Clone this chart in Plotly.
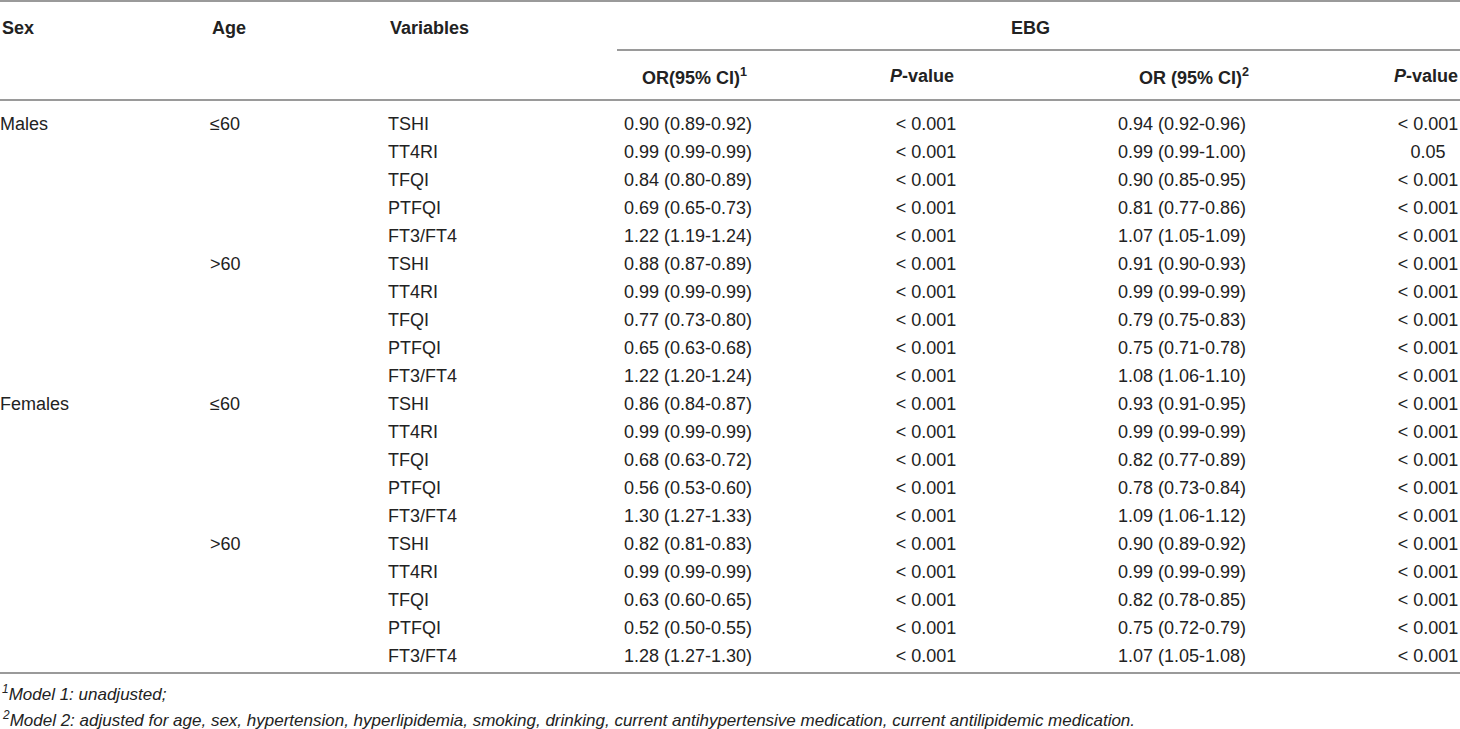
"""EBG odds ratios by sex and age group, drawn as a plain three-line table."""
import plotly.graph_objects as go

# ---- data ----------------------------------------------------------------
sexes = ["Males", "Females"]
age_groups = ["≤60", ">60"]
variables = ["TSHI", "TT4RI", "TFQI", "PTFQI", "FT3/FT4"]

or_model1 = [
    "0.90 (0.89-0.92)", "0.99 (0.99-0.99)", "0.84 (0.80-0.89)", "0.69 (0.65-0.73)", "1.22 (1.19-1.24)",
    "0.88 (0.87-0.89)", "0.99 (0.99-0.99)", "0.77 (0.73-0.80)", "0.65 (0.63-0.68)", "1.22 (1.20-1.24)",
    "0.86 (0.84-0.87)", "0.99 (0.99-0.99)", "0.68 (0.63-0.72)", "0.56 (0.53-0.60)", "1.30 (1.27-1.33)",
    "0.82 (0.81-0.83)", "0.99 (0.99-0.99)", "0.63 (0.60-0.65)", "0.52 (0.50-0.55)", "1.28 (1.27-1.30)",
]
p_model1 = ["< 0.001"] * 20
or_model2 = [
    "0.94 (0.92-0.96)", "0.99 (0.99-1.00)", "0.90 (0.85-0.95)", "0.81 (0.77-0.86)", "1.07 (1.05-1.09)",
    "0.91 (0.90-0.93)", "0.99 (0.99-0.99)", "0.79 (0.75-0.83)", "0.75 (0.71-0.78)", "1.08 (1.06-1.10)",
    "0.93 (0.91-0.95)", "0.99 (0.99-0.99)", "0.82 (0.77-0.89)", "0.78 (0.73-0.84)", "1.09 (1.06-1.12)",
    "0.90 (0.89-0.92)", "0.99 (0.99-0.99)", "0.82 (0.78-0.85)", "0.75 (0.72-0.79)", "1.07 (1.05-1.08)",
]
p_model2 = [
    "< 0.001", "0.05", "< 0.001", "< 0.001", "< 0.001",
    "< 0.001", "< 0.001", "< 0.001", "< 0.001", "< 0.001",
    "< 0.001", "< 0.001", "< 0.001", "< 0.001", "< 0.001",
    "< 0.001", "< 0.001", "< 0.001", "< 0.001", "< 0.001",
]

headers = ["Sex", "Age", "Variables"]
group_header = "EBG"
sub_headers = ["OR(95% CI)<sup>1</sup>", "<i>P</i>-value", "OR (95% CI)<sup>2</sup>", "<i>P</i>-value"]
footnotes = [
    "<sup>1</sup>Model 1: unadjusted;",
    "<sup>2</sup>Model 2: adjusted for age, sex, hypertension, hyperlipidemia, smoking, drinking, "
    "current antihypertensive medication, current antilipidemic medication.",
]

# ---- flatten into table rows ------------------------------------------------
var_col = []
sex_rows, sex_text, age_rows, age_text = [], [], [], []
for s in sexes:
    sex_rows.append(len(var_col))
    sex_text.append(s)
    for a in age_groups:
        age_rows.append(len(var_col))
        age_text.append(a)
        var_col.extend(variables)

W, H = 1460, 729
FONT = "Liberation Sans, Arial, sans-serif"
TXT = "#222222"
RULE = "#9a9a9a"
ROW0, ROW_H = 125, 28
row_y = [ROW0 + ROW_H * i for i in range(len(var_col))]

# column anchors: (texts, row indices, x, textposition)
all_rows = list(range(len(var_col)))
columns = [
    (sex_text, sex_rows, 0, "middle right"),
    (age_text, age_rows, 210, "middle right"),
    (var_col, all_rows, 388, "middle right"),
    (or_model1, all_rows, 688, "middle center"),
    (p_model1, all_rows, 926, "middle center"),
    (or_model2, all_rows, 1182, "middle center"),
    (p_model2, all_rows, 1428, "middle center"),
]

fig = go.Figure()
for texts, rows, x, pos in columns:
    fig.add_trace(go.Scatter(
        x=[x] * len(texts), y=[row_y[r] for r in rows], text=texts, mode="text",
        textposition=pos, textfont=dict(family=FONT, size=18, color=TXT),
        hoverinfo="skip", showlegend=False,
    ))

# header rows
hdr = dict(xref="x", yref="y", showarrow=False, yanchor="middle",
           font=dict(family=FONT, size=18, color=TXT))
for text, x in zip(headers, [0, 210, 388]):
    fig.add_annotation(x=x, y=28, text=f"<b>{text}</b>", xanchor="left", **hdr)
fig.add_annotation(x=1030, y=28, text=f"<b>{group_header}</b>", xanchor="center", **hdr)
for text, x in zip(sub_headers, [694, 922, 1194, 1426]):
    fig.add_annotation(x=x, y=76, text=f"<b>{text}</b>", xanchor="center", **hdr)

for text, y in zip(footnotes, [693, 719]):
    fig.add_annotation(x=0, y=y, text=f"<i>{text}</i>", xanchor="left", xref="x", yref="y",
                       showarrow=False, yanchor="middle",
                       font=dict(family=FONT, size=17, color=TXT))

# rules
for x0, x1, y in [(0, W, 1), (617, W, 50), (0, W, 100), (0, W, 673)]:
    fig.add_shape(type="line", x0=x0, x1=x1, y0=y, y1=y, xref="x", yref="y",
                  line=dict(color=RULE, width=2))

fig.update_layout(
    width=W, height=H, margin=dict(l=0, r=0, t=0, b=0),
    paper_bgcolor="white", plot_bgcolor="white",
    xaxis=dict(range=[0, W], visible=False, fixedrange=True),
    yaxis=dict(range=[H, 0], visible=False, fixedrange=True),
)
fig.write_html(
    "out.html",
    config={"displayModeBar": False},
    post_script="document.body.style.margin='0';document.body.style.overflow='hidden';",
)
